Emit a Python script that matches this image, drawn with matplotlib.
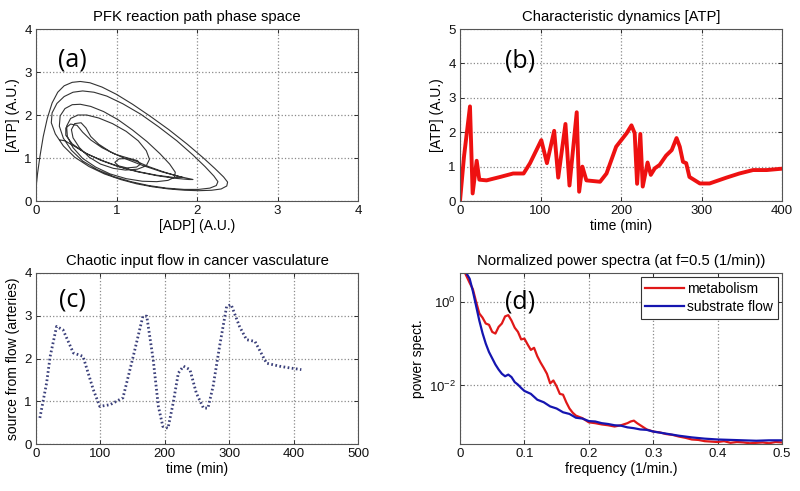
import numpy as np
import matplotlib
matplotlib.use("Agg")
import matplotlib.pyplot as plt
from matplotlib.ticker import FixedLocator, FixedFormatter, NullLocator

plt.rcParams['font.family'] = ['Liberation Sans', 'DejaVu Sans']
plt.rcParams['mathtext.fontset'] = 'custom'
plt.rcParams['mathtext.rm'] = 'Liberation Sans'

# (a) phase space trajectory [ADP], [ATP]
adp_a = [0.00, 0.02, 0.05, 0.09, 0.14, 0.20, 0.27, 0.35, 0.45, 0.55, 0.67, 0.82, 1.00, 1.20, 1.42,
         1.65, 1.88, 2.08, 2.22, 2.33, 2.38, 2.37, 2.30, 2.18, 2.02, 1.85, 1.65, 1.45, 1.25, 1.05,
         0.85, 0.66, 0.48, 0.34, 0.24, 0.19, 0.20, 0.26, 0.35, 0.46, 0.58,
         0.72, 0.88, 1.08, 1.30, 1.52, 1.75, 1.95, 2.10, 2.21, 2.26, 2.24, 2.16, 2.02, 1.84, 1.62,
         1.40, 1.18, 0.96, 0.76, 0.58, 0.44, 0.34, 0.29, 0.30, 0.36, 0.45, 0.55,
         0.68, 0.84, 1.02, 1.20, 1.38, 1.54, 1.66, 1.73, 1.72, 1.64, 1.50, 1.32, 1.12, 0.92, 0.74,
         0.58, 0.46, 0.39, 0.38, 0.43, 0.52, 0.63,
         0.78, 0.95, 1.12, 1.27, 1.37, 1.41, 1.37, 1.26, 1.11, 0.96, 0.80, 0.66, 0.54, 0.46, 0.44,
         0.48, 0.56, 0.62,
         0.68, 0.78, 0.92, 1.10, 1.32, 1.56, 1.78, 1.95, 1.90, 1.72, 1.50, 1.26, 1.02, 0.80, 0.60,
         0.45, 0.37, 0.37, 0.43, 0.51, 0.58, 0.68, 0.82, 0.98, 1.14, 1.26, 1.30, 1.25, 1.13, 1.02,
         0.98, 1.03, 1.14, 1.25, 1.40, 1.58, 1.74, 1.82, 1.70, 1.50, 1.28, 1.05, 0.84, 0.64, 0.48,
         0.36, 0.30]
atp_a = [0.30, 0.65, 1.05, 1.50, 1.92, 2.28, 2.53, 2.68, 2.76, 2.78, 2.75, 2.65, 2.48, 2.25, 1.97,
         1.66, 1.32, 1.00, 0.76, 0.56, 0.44, 0.35, 0.28, 0.25, 0.24, 0.25, 0.28, 0.33, 0.40, 0.50,
         0.63, 0.80, 1.02, 1.28, 1.56, 1.82, 2.05, 2.27, 2.43, 2.53, 2.56,
         2.53, 2.44, 2.26, 2.02, 1.73, 1.40, 1.07, 0.80, 0.58, 0.45, 0.36, 0.30, 0.27, 0.27, 0.30,
         0.36, 0.45, 0.57, 0.73, 0.93, 1.18, 1.46, 1.74, 1.98, 2.15, 2.24, 2.25,
         2.20, 2.08, 1.89, 1.65, 1.38, 1.10, 0.86, 0.67, 0.55, 0.48, 0.45, 0.46, 0.52, 0.63, 0.79,
         0.99, 1.24, 1.50, 1.74, 1.92, 2.00, 2.00,
         1.93, 1.80, 1.62, 1.40, 1.17, 0.97, 0.82, 0.74, 0.72, 0.76, 0.86, 1.02, 1.24, 1.47, 1.66,
         1.80, 1.82, 1.70,
         1.50, 1.32, 1.15, 0.99, 0.83, 0.68, 0.57, 0.50, 0.50, 0.53, 0.59, 0.68, 0.80, 0.95, 1.13,
         1.33, 1.53, 1.70, 1.79, 1.76, 1.60, 1.42, 1.24, 1.09, 1.00, 0.94, 0.86, 0.79, 0.77, 0.82,
         0.90, 0.98, 0.99, 0.92, 0.80, 0.68, 0.59, 0.55, 0.55, 0.60, 0.68, 0.79, 0.93, 1.09, 1.27,
         1.40, 1.42]

# (b) ATP time course
t_b = [0, 5, 12.4, 15.7, 20.7, 24, 33, 50, 66, 79, 87, 101, 108, 117, 122, 131, 136, 145, 148, 152,
       157, 174, 182, 194, 207, 213, 217, 220, 224, 227, 233, 237, 242, 248, 256, 263, 269, 273, 277,
       281, 285, 298, 310, 331, 347, 364, 381, 400]
atp_b = [0.0, 1.3, 2.75, 0.22, 1.17, 0.62, 0.6, 0.7, 0.8, 0.8, 1.1, 1.77, 1.1, 2.04, 0.68, 2.24, 0.45,
         2.58, 0.27, 1.0, 0.6, 0.56, 0.8, 1.58, 1.97, 2.2, 1.97, 0.5, 1.95, 0.42, 1.12, 0.76, 0.95,
         1.05, 1.32, 1.48, 1.83, 1.58, 1.14, 1.1, 0.7, 0.51, 0.51, 0.68, 0.8, 0.9, 0.9, 0.94]

# (c) input flow
t_c = [6, 16.5, 22, 32, 42, 58, 73, 89, 99, 115, 135, 151, 166, 172, 182, 190, 197, 205, 213, 221,
       229, 239, 249, 260, 267, 275, 285, 296, 303, 316, 327, 340, 358, 378, 394, 412]
flow_c = [0.61, 1.43, 2.05, 2.75, 2.67, 2.13, 2.05, 1.27, 0.88, 0.92, 1.08, 2.05, 2.99, 2.99, 1.97,
          0.88, 0.41, 0.37, 0.96, 1.66, 1.82, 1.74, 1.19, 0.84, 0.84, 1.35, 2.28, 3.22, 3.26, 2.75,
          2.44, 2.40, 1.89, 1.82, 1.78, 1.74]

# (d) power spectra (log10 values)
f_red = [0.008, 0.015, 0.02, 0.025, 0.03, 0.035, 0.04, 0.045, 0.05, 0.055, 0.06, 0.065, 0.07, 0.075,
         0.08, 0.085, 0.09, 0.095, 0.1, 0.105, 0.11, 0.115, 0.12, 0.125, 0.13, 0.135, 0.14, 0.145,
         0.15, 0.155, 0.16, 0.165, 0.17, 0.175, 0.18, 0.19, 0.2, 0.21, 0.22, 0.23, 0.24, 0.25, 0.26,
         0.265, 0.27, 0.275, 0.28, 0.29, 0.3, 0.31, 0.32, 0.33, 0.34, 0.35, 0.36, 0.37, 0.38, 0.39,
         0.4, 0.41, 0.42, 0.43, 0.44, 0.45, 0.46, 0.47, 0.48, 0.49, 0.5]
metab_log = [0.68, 0.45, 0.3, 0.0, -0.28, -0.38, -0.52, -0.55, -0.72, -0.76, -0.6, -0.52, -0.35,
             -0.32, -0.45, -0.62, -0.72, -0.9, -0.88, -1.02, -1.15, -1.1, -1.3, -1.45, -1.58, -1.72,
             -1.95, -1.88, -2.02, -2.2, -2.22, -2.4, -2.55, -2.65, -2.72, -2.78, -2.88, -2.9, -2.93,
             -2.95, -2.98, -2.95, -2.9, -2.86, -2.84, -2.9, -2.95, -3.05, -3.1, -3.12, -3.16, -3.18,
             -3.22, -3.25, -3.29, -3.3, -3.33, -3.34, -3.35, -3.33, -3.37, -3.35, -3.36, -3.38, -3.37,
             -3.36, -3.38, -3.35, -3.36]
f_blue = [0.01, 0.015, 0.02, 0.025, 0.03, 0.035, 0.04, 0.045, 0.05, 0.055, 0.06, 0.065, 0.07, 0.075,
          0.08, 0.085, 0.09, 0.095, 0.1, 0.11, 0.12, 0.13, 0.14, 0.15, 0.16, 0.17, 0.18, 0.19, 0.2,
          0.21, 0.22, 0.23, 0.24, 0.25, 0.26, 0.27, 0.28, 0.29, 0.3, 0.32, 0.34, 0.36, 0.38, 0.4,
          0.42, 0.44, 0.46, 0.48, 0.5]
flow_log = [0.68, 0.55, 0.25, -0.1, -0.45, -0.75, -1.0, -1.2, -1.35, -1.5, -1.62, -1.72, -1.78,
            -1.74, -1.8, -1.92, -1.98, -2.06, -2.13, -2.2, -2.34, -2.4, -2.5, -2.55, -2.64, -2.68,
            -2.77, -2.79, -2.85, -2.86, -2.9, -2.92, -2.95, -2.96, -3.0, -3.02, -3.05, -3.06, -3.1,
            -3.15, -3.2, -3.24, -3.27, -3.29, -3.3, -3.31, -3.32, -3.31, -3.31]

GRID = dict(color='#8a8a8a', linestyle=':', linewidth=0.9)
TICK = 9.5
LAB = 10
TITLE = 10.7
PANEL = dict(fontsize=18, family=['Open Sans', 'DejaVu Sans'], ha='center', va='center')


def style(ax):
    ax.grid(True, **GRID)
    ax.tick_params(direction='in', top=True, right=True, length=3, width=0.6,
                   labelsize=TICK, colors='#111111', pad=3)
    for s in ax.spines.values():
        s.set_color('#555555')
        s.set_linewidth(0.8)


fig = plt.figure(figsize=(8, 4.91), dpi=100)
ax_a = fig.add_axes([0.045, 0.5906, 0.4025, 0.3503])
ax_b = fig.add_axes([0.575, 0.5906, 0.4025, 0.3503])
ax_c = fig.add_axes([0.045, 0.0957, 0.4025, 0.3483])
ax_d = fig.add_axes([0.575, 0.0957, 0.4025, 0.3483])

# (a)
ax_a.plot(adp_a, atp_a, color='#333333', lw=0.8)
ax_a.set_xlim(0, 4)
ax_a.set_ylim(0, 4)
ax_a.set_xticks([0, 1, 2, 3, 4])
ax_a.set_yticks([0, 1, 2, 3, 4])
ax_a.set_title('PFK reaction path phase space', fontsize=TITLE, pad=6)
ax_a.set_xlabel('[ADP] (A.U.)', fontsize=LAB, labelpad=1)
ax_a.set_ylabel('[ATP] (A.U.)', fontsize=LAB, labelpad=3)
ax_a.text(0.45, 3.28, '(a)', **PANEL)
style(ax_a)

# (b)
ax_b.plot(t_b, atp_b, color='#ee1111', lw=2.8)
ax_b.set_xlim(0, 400)
ax_b.set_ylim(0, 5)
ax_b.set_xticks([0, 100, 200, 300, 400])
ax_b.set_yticks([0, 1, 2, 3, 4, 5])
ax_b.set_title('Characteristic dynamics [ATP]', fontsize=TITLE, pad=6)
ax_b.set_xlabel('time (min)', fontsize=LAB, labelpad=1)
ax_b.set_ylabel('[ATP] (A.U.)', fontsize=LAB, labelpad=3)
ax_b.text(74, 4.07, '(b)', **PANEL)
style(ax_b)

# (c)
ax_c.plot(t_c, flow_c, color='#3a3f7a', lw=2.0, linestyle=(0, (0.6, 0.9)))
ax_c.set_xlim(0, 500)
ax_c.set_ylim(0, 4)
ax_c.set_xticks([0, 100, 200, 300, 400, 500])
ax_c.set_yticks([0, 1, 2, 3, 4])
ax_c.set_title('Chaotic input flow in cancer vasculature', fontsize=TITLE, pad=6)
ax_c.set_xlabel('time (min)', fontsize=LAB, labelpad=1)
ax_c.set_ylabel('source from flow (arteries)', fontsize=LAB, labelpad=3)
ax_c.text(56.7, 3.37, '(c)', **PANEL)
style(ax_c)

# (d)
ax_d.plot(f_red, 10 ** np.array(metab_log), color='#e01818', lw=1.6, label='metabolism')
ax_d.plot(f_blue, 10 ** np.array(flow_log), color='#1515b0', lw=1.6, label='substrate flow')
ax_d.set_yscale('log')
ax_d.set_xlim(0, 0.5)
ax_d.set_ylim(4.0e-4, 4.86)
ax_d.set_xticks([0, 0.1, 0.2, 0.3, 0.4, 0.5])
ax_d.set_xticklabels(['0', '0.1', '0.2', '0.3', '0.4', '0.5'])
ax_d.yaxis.set_major_locator(FixedLocator([1e-2, 1e0]))
ax_d.yaxis.set_major_formatter(FixedFormatter([r'$10^{-2}$', r'$10^{0}$']))
ax_d.yaxis.set_minor_locator(NullLocator())
ax_d.set_title('Normalized power spectra (at f=0.5 (1/min))', fontsize=TITLE, pad=6)
ax_d.set_xlabel('frequency (1/min.)', fontsize=LAB, labelpad=1)
ax_d.set_ylabel('power spect.', fontsize=LAB, labelpad=3)
ax_d.text(0.093, 1.0, '(d)', **PANEL)
style(ax_d)
leg = ax_d.legend(loc='upper right', fontsize=LAB, fancybox=False, framealpha=1,
                  edgecolor='#333333', handlelength=2.8, borderaxespad=0.3,
                  handletextpad=0.2, labelspacing=0.3, borderpad=0.35)
leg.get_frame().set_linewidth(0.8)

fig.savefig('out.png', dpi=100)
